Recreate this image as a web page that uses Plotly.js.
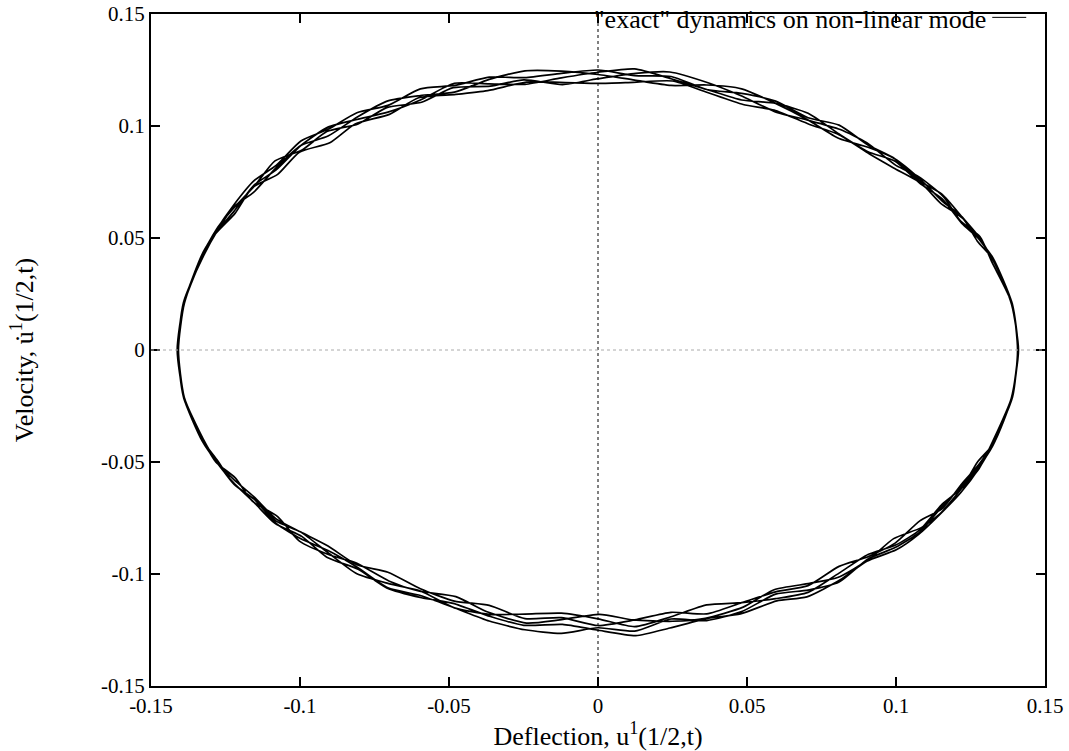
<!DOCTYPE html>
<html>
<head>
<meta charset="utf-8">
<script src="https://cdn.plot.ly/plotly-3.0.1.min.js"></script>
<style>html,body{margin:0;padding:0;background:#fff;}#chart{width:1069px;height:751px;}</style>
</head>
<body>
<div id="chart"></div>
<script>
// Deflection (x) / velocity (y) samples, one pair of arrays per orbit
const loop1X = [-0.1412,-0.1390,
  -0.1325,-0.1278,-0.1221,-0.1155,-0.1080,-0.0997,-0.0906,-0.0809,-0.0705,-0.0596,-0.0482,-0.0365,-0.0245,-0.0123,0.0000,0.0123,0.0245,0.0365,0.0482,0.0596,0.0705,0.0809,0.0906,0.0997,0.1080,0.1155,0.1221,0.1278,0.1325,
  0.1390,0.1408,0.1391,
  0.1325,0.1278,0.1221,0.1155,0.1080,0.0997,0.0906,0.0809,0.0705,0.0596,0.0482,0.0365,0.0245,0.0123,0.0000,-0.0123,-0.0245,-0.0365,-0.0482,-0.0596,-0.0705,-0.0809,-0.0906,-0.0997,-0.1080,-0.1155,-0.1221,-0.1278,-0.1325,
  -0.1388];
const loop1Y = [0.0000,0.0210,
  0.0427,0.0541,0.0650,0.0755,0.0824,0.0933,0.0985,0.1059,0.1092,0.1166,0.1181,0.1218,0.1216,0.1235,0.1250,0.1225,0.1221,0.1163,0.1146,0.1111,0.1037,0.1004,0.0915,0.0853,0.0754,0.0695,0.0595,0.0506,0.0402,
  0.0208,0.0000,-0.0210,
  -0.0417,-0.0511,-0.0597,-0.0708,-0.0763,-0.0862,-0.0923,-0.0966,-0.1052,-0.1080,-0.1128,-0.1178,-0.1171,-0.1205,-0.1230,-0.1195,-0.1199,-0.1140,-0.1121,-0.1066,-0.0992,-0.0959,-0.0875,-0.0813,-0.0754,-0.0655,-0.0580,-0.0501,-0.0397,
  -0.0213];
const loop2X = [-0.1408,-0.1387,
  -0.1320,-0.1282,-0.1218,-0.1160,-0.1075,-0.1002,-0.0900,-0.0815,-0.0700,-0.0602,-0.0477,-0.0370,-0.0240,-0.0128,0.0005,0.0118,0.0250,0.0360,0.0487,0.0591,0.0710,0.0804,0.0911,0.0992,0.1085,0.1150,0.1226,0.1273,0.1328,
  0.1388,0.1411,0.1387,
  0.1322,0.1282,0.1217,0.1159,0.1076,0.1001,0.0902,0.0813,0.0701,0.0600,0.0478,0.0369,0.0241,0.0127,-0.0004,-0.0119,-0.0249,-0.0361,-0.0486,-0.0592,-0.0709,-0.0805,-0.0910,-0.0993,-0.1084,-0.1151,-0.1225,-0.1274,-0.1328,
  -0.1391];
const loop2Y = [0.0000,0.0215,
  0.0437,0.0521,0.0610,0.0725,0.0784,0.0883,0.0925,0.1009,0.1052,0.1126,0.1141,0.1158,0.1196,0.1195,0.1190,0.1195,0.1201,0.1153,0.1096,0.1071,0.1007,0.0964,0.0875,0.0813,0.0744,0.0655,0.0585,0.0486,0.0402,
  0.0203,0.0000,-0.0215,
  -0.0427,-0.0521,-0.0637,-0.0718,-0.0823,-0.0892,-0.0943,-0.1026,-0.1102,-0.1120,-0.1178,-0.1198,-0.1241,-0.1275,-0.1250,-0.1225,-0.1229,-0.1190,-0.1131,-0.1106,-0.1062,-0.0979,-0.0925,-0.0833,-0.0774,-0.0685,-0.0590,-0.0511,-0.0407,
  -0.0210];
const loop3X = [-0.1410,-0.1391,
  -0.1325,-0.1278,-0.1221,-0.1155,-0.1080,-0.0997,-0.0906,-0.0809,-0.0705,-0.0596,-0.0482,-0.0365,-0.0245,-0.0123,0.0000,0.0123,0.0245,0.0365,0.0482,0.0596,0.0705,0.0809,0.0906,0.0997,0.1080,0.1155,0.1221,0.1278,0.1325,
  0.1389,0.1409,0.1388,
  0.1325,0.1278,0.1221,0.1155,0.1080,0.0997,0.0906,0.0809,0.0705,0.0596,0.0482,0.0365,0.0245,0.0123,0.0000,-0.0123,-0.0245,-0.0365,-0.0482,-0.0596,-0.0705,-0.0809,-0.0906,-0.0997,-0.1080,-0.1155,-0.1221,-0.1278,-0.1325,
  -0.1389];
const loop3Y = [0.0000,0.0212,
  0.0417,0.0531,0.0640,0.0705,0.0814,0.0913,0.0955,0.1039,0.1112,0.1136,0.1151,0.1208,0.1246,0.1245,0.1230,0.1205,0.1181,0.1183,0.1166,0.1101,0.1027,0.0944,0.0905,0.0853,0.0764,0.0665,0.0595,0.0496,0.0412,
  0.0210,0.0000,-0.0212,
  -0.0407,-0.0531,-0.0617,-0.0688,-0.0803,-0.0872,-0.0913,-0.0996,-0.1082,-0.1110,-0.1128,-0.1138,-0.1191,-0.1235,-0.1200,-0.1175,-0.1179,-0.1180,-0.1151,-0.1076,-0.1042,-0.0999,-0.0905,-0.0813,-0.0764,-0.0665,-0.0600,-0.0491,-0.0407,
  -0.0212];
const loop4X = [-0.1411,-0.1388,
  -0.1328,-0.1274,-0.1225,-0.1151,-0.1084,-0.0993,-0.0910,-0.0805,-0.0709,-0.0592,-0.0486,-0.0361,-0.0249,-0.0119,-0.0004,0.0127,0.0241,0.0369,0.0478,0.0600,0.0701,0.0813,0.0902,0.1001,0.1076,0.1159,0.1217,0.1282,0.1322,
  0.1390,0.1410,0.1390,
  0.1328,0.1273,0.1226,0.1150,0.1085,0.0992,0.0911,0.0804,0.0710,0.0591,0.0487,0.0360,0.0250,0.0118,0.0005,-0.0128,-0.0240,-0.0370,-0.0477,-0.0602,-0.0700,-0.0815,-0.0900,-0.1002,-0.1075,-0.1160,-0.1218,-0.1282,-0.1320,
  -0.1390];
const loop4Y = [0.0000,0.0208,
  0.0427,0.0551,0.0630,0.0735,0.0844,0.0893,0.0975,0.1009,0.1082,0.1106,0.1171,0.1178,0.1206,0.1185,0.1210,0.1235,0.1241,0.1193,0.1136,0.1061,0.1027,0.0984,0.0925,0.0823,0.0774,0.0685,0.0575,0.0506,0.0392,
  0.0205,0.0000,-0.0208,
  -0.0417,-0.0501,-0.0607,-0.0728,-0.0793,-0.0842,-0.0933,-0.1016,-0.1042,-0.1070,-0.1148,-0.1198,-0.1211,-0.1205,-0.1180,-0.1205,-0.1219,-0.1170,-0.1101,-0.1076,-0.1032,-0.0949,-0.0915,-0.0853,-0.0744,-0.0675,-0.0570,-0.0501,-0.0417,
  -0.0215];
const loop5X = [-0.1409,-0.1389,
  -0.1325,-0.1278,-0.1221,-0.1155,-0.1080,-0.0997,-0.0906,-0.0809,-0.0705,-0.0596,-0.0482,-0.0365,-0.0245,-0.0123,0.0000,0.0123,0.0245,0.0365,0.0482,0.0596,0.0705,0.0809,0.0906,0.0997,0.1080,0.1155,0.1221,0.1278,0.1325,
  0.1389,0.1410,0.1389,
  0.1325,0.1278,0.1221,0.1155,0.1080,0.0997,0.0906,0.0809,0.0705,0.0596,0.0482,0.0365,0.0245,0.0123,0.0000,-0.0123,-0.0245,-0.0365,-0.0482,-0.0596,-0.0705,-0.0809,-0.0906,-0.0997,-0.1080,-0.1155,-0.1221,-0.1278,-0.1325,
  -0.1389,-0.1412];
const loop5Y = [0.0000,0.0212,
  0.0437,0.0531,0.0620,0.0735,0.0804,0.0913,0.0995,0.1029,0.1062,0.1116,0.1191,0.1188,0.1186,0.1215,0.1240,0.1255,0.1211,0.1163,0.1116,0.1101,0.1057,0.0964,0.0885,0.0843,0.0744,0.0675,0.0565,0.0496,0.0402,
  0.0207,0.0000,-0.0212,
  -0.0427,-0.0521,-0.0607,-0.0698,-0.0813,-0.0882,-0.0933,-0.1036,-0.1072,-0.1090,-0.1168,-0.1208,-0.1201,-0.1255,-0.1240,-0.1265,-0.1249,-0.1210,-0.1151,-0.1096,-0.1062,-0.0969,-0.0895,-0.0843,-0.0774,-0.0665,-0.0600,-0.0501,-0.0407,
  -0.0212,0.0000];

const tickVals = [-0.15,-0.1,-0.05,0,0.05,0.1,0.15];
const tickText = ["-0.15","-0.1","-0.05","0","0.05","0.1","0.15"];
const seriesName = '"exact" dynamics on non-linear mode';

const xs = [].concat(loop1X, loop2X, loop3X, loop4X, loop5X);
const ys = [].concat(loop1Y, loop2Y, loop3Y, loop4Y, loop5Y);

const FONT = "Liberation Serif, Times New Roman, serif";

const trace = {
  x: xs, y: ys, type: 'scatter', mode: 'lines', name: seriesName,
  line: {color: '#000', width: 1.7, shape: 'spline', smoothing: 0.6},
  showlegend: false, hoverinfo: 'skip'
};

const axisCommon = {
  range: [-0.15, 0.15], tickmode: 'array', tickvals: tickVals, ticktext: tickText,
  ticks: 'inside', ticklen: 9, tickwidth: 1.5, tickcolor: '#000',
  showline: true, linecolor: '#000', linewidth: 2, mirror: 'ticks',
  showgrid: false, zeroline: false,
  tickfont: {family: FONT, size: 21, color: '#000'}
};

const layout = {
  width: 1069, height: 751,
  margin: {l: 151, r: 24, t: 14, b: 65},
  paper_bgcolor: '#fff', plot_bgcolor: '#fff',
  font: {family: FONT, color: '#000'},
  xaxis: Object.assign({}, axisCommon, {
    title: {text: 'Deflection, u<sup>1</sup>(1/2,t)', font: {family: FONT, size: 26, color: '#000'}, standoff: 2}
  }),
  yaxis: Object.assign({}, axisCommon, {
    title: {text: 'Velocity, u\u0307<sup>1</sup>(1/2,t)', font: {family: FONT, size: 26, color: '#000'}, standoff: 60}
  }),
  shapes: [
    {type: 'line', xref: 'x', yref: 'paper', x0: 0, x1: 0, y0: 0, y1: 1, line: {color: '#000', width: 1, dash: 'dot'}},
    {type: 'line', xref: 'paper', yref: 'y', x0: 0, x1: 1, y0: 0, y1: 0, line: {color: '#aaa', width: 1, dash: 'dot'}},
    {type: 'line', xref: 'paper', yref: 'paper', x0: 0.941, x1: 0.979, y0: 0.995, y1: 0.995, line: {color: '#000', width: 1}}
  ],
  annotations: [
    {xref: 'paper', yref: 'paper', x: 0.936, y: 0.992, xanchor: 'right', yanchor: 'middle', showarrow: false,
     text: seriesName, font: {family: FONT, size: 26, color: '#000'}}
  ]
};

Plotly.newPlot('chart', [trace], layout, {displayModeBar: false, staticPlot: true});
</script>
</body>
</html>
